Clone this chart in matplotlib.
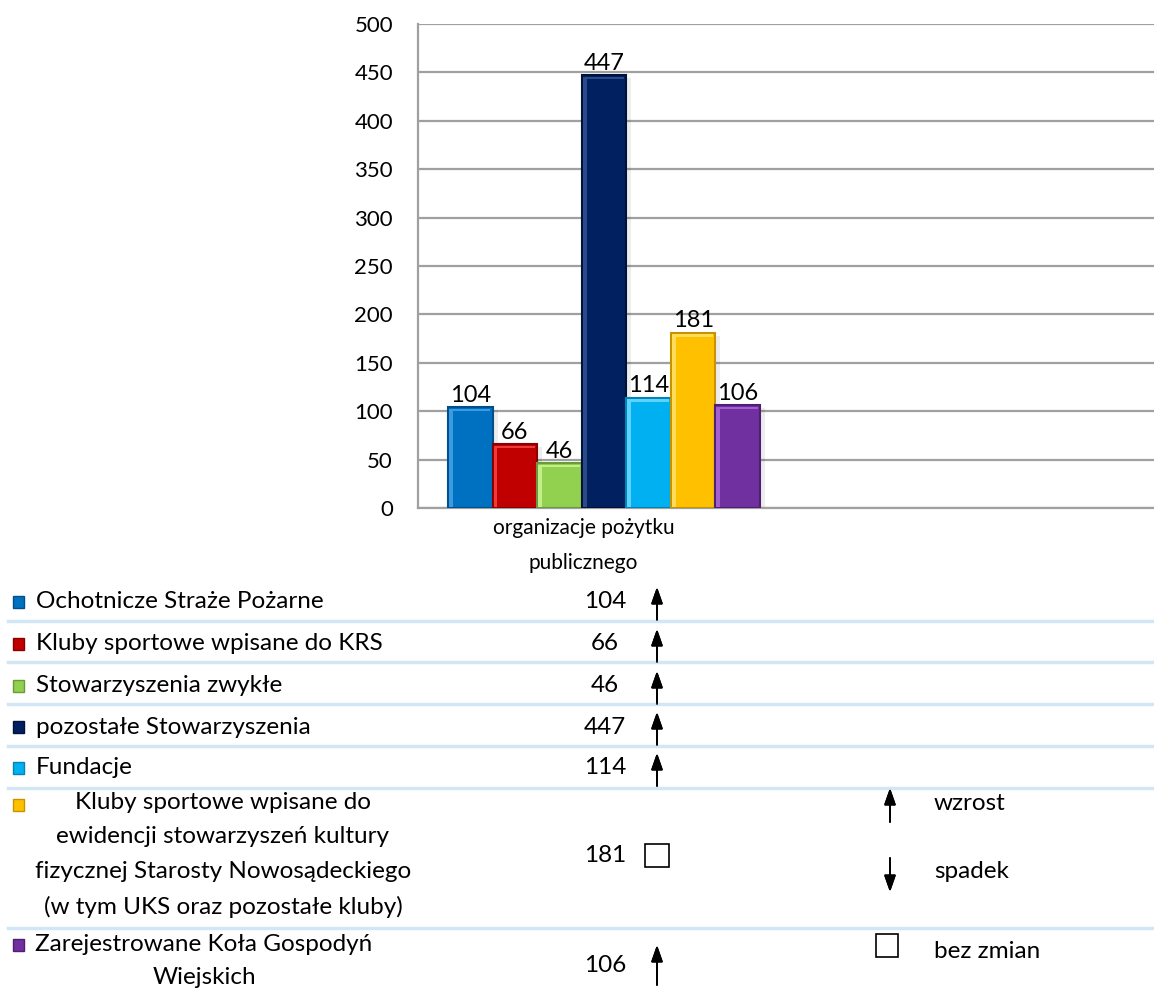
import numpy as np
import matplotlib.pyplot as plt
from matplotlib.patches import Rectangle

plt.rcParams['font.family'] = ['Lato', 'DejaVu Sans']

# Dane
kategorie = ['Ochotnicze Straże Pożarne',
             'Kluby sportowe wpisane do KRS',
             'Stowarzyszenia zwykłe',
             'pozostałe Stowarzyszenia',
             'Fundacje',
             'Kluby sportowe wpisane do\newidencji stowarzyszeń kultury\nfizycznej Starosty Nowosądeckiego\n(w tym UKS oraz pozostałe kluby)',
             'Zarejestrowane Koła Gospodyń\nWiejskich']
wartosci = [104, 66, 46, 447, 114, 181, 106]
zmiany = ['wzrost', 'wzrost', 'wzrost', 'wzrost', 'wzrost', 'bez zmian', 'wzrost']
kolory = ['#0070C0', '#C00000', '#92D050', '#002060', '#00B0F0', '#FFC000', '#7030A0']
jasne = ['#3a9be0', '#f03a3a', '#c3ee8a', '#2a4a8a', '#5fd3ff', '#ffdc5a', '#a060d0']
krawedzie = ['#004f8a', '#8a0000', '#6a9a3a', '#001238', '#0085b5', '#c79400', '#4f1f72']
grupa = 'organizacje pożytku\npublicznego'
y_ticks = [0, 50, 100, 150, 200, 250, 300, 350, 400, 450, 500]

W, H = 1154, 989
FS = 17.5
fig = plt.figure(figsize=(W / 100, H / 100), dpi=100)


def fx(x):
    return x / W


def fy(y):
    return 1 - y / H


# Wykres słupkowy
ax = fig.add_axes([fx(418), fy(508), 1 - fx(418), fy(24) - fy(508)])
szer = 0.121
start = -0.418
for i, (v, c, e) in enumerate(zip(wartosci, kolory, krawedzie)):
    xc = start + szer * (i + 0.5)
    # cień
    ax.bar(xc + 0.014, v, width=szer, bottom=-3, color='#000000', alpha=0.07,
           linewidth=0, zorder=2)
    ax.bar(xc, v, width=szer, color=c, edgecolor=e, linewidth=1.5, zorder=3)
    # jaśniejsza krawędź (efekt wypukłości)
    ax.bar(xc - szer / 2 + 0.008, v - 3, width=0.01, bottom=1.5, color=jasne[i],
           linewidth=0, zorder=4)
    ax.bar(xc, 2.5, width=szer - 0.012, bottom=v - 4, color=jasne[i],
           linewidth=0, zorder=4)
    ax.annotate(str(v), (xc, v), xytext=(0, 1), textcoords='offset points',
                ha='center', va='bottom', fontsize=17, zorder=5)

ax.set_xlim(-0.5, 1.5)
ax.set_ylim(0, 500)
ax.set_yticks(y_ticks)
ax.set_yticklabels([str(t) for t in y_ticks], fontsize=16)
ax.set_xticks([-0.05])
ax.set_xticklabels([grupa], fontsize=15, linespacing=1.95)
ax.tick_params(axis='both', length=0, pad=7)
ax.tick_params(axis='y', pad=18)
ax.yaxis.grid(True, color='#a0a0a0', linewidth=1.6, zorder=0)
ax.set_axisbelow(True)
for s in ['top', 'right']:
    ax.spines[s].set_visible(False)
for s in ['left', 'bottom']:
    ax.spines[s].set_color('#a0a0a0')
    ax.spines[s].set_linewidth(1.6)

# Tabela pod wykresem
linie = [621, 662, 704, 746, 788, 928]
for y in linie:
    fig.add_artist(plt.Line2D([fx(8), 1], [fy(y), fy(y)], color='#d3e6f5',
                              linewidth=2.5))

wiersze_y = [602, 644, 686, 727, 768, 855, 961]
marker_y = [602, 644, 686, 727, 768, 805, 945]


def strzalka(x, y0, y1):
    fig.add_artist(plt.annotate('', xy=(fx(x), fy(y1)), xytext=(fx(x), fy(y0)),
                                xycoords='figure fraction',
                                arrowprops=dict(arrowstyle='-|>,head_length=1.0,head_width=0.35',
                                                color='black', linewidth=1.3,
                                                shrinkA=0, shrinkB=0)))


def kwadrat(x, y, w, h):
    fig.add_artist(Rectangle((fx(x), fy(y + h)), w / W, h / H, fill=False,
                             edgecolor='black', linewidth=1.2,
                             transform=fig.transFigure))


for i, (k, v, z) in enumerate(zip(kategorie, wartosci, zmiany)):
    y = wiersze_y[i]
    fig.add_artist(Rectangle((fx(13), fy(marker_y[i] + 6)), 11 / W, 12 / H,
                             facecolor=kolory[i], edgecolor=krawedzie[i],
                             linewidth=1, transform=fig.transFigure))
    if i < 5:
        fig.text(fx(36), fy(y), k, fontsize=FS, ha='left', va='center')
    elif i == 5:
        fig.text(fx(223), fy(y), k, fontsize=FS, ha='center', va='center',
                 linespacing=1.78)
    else:
        fig.text(fx(204), fy(y), k, fontsize=FS, ha='center', va='center',
                 linespacing=1.65)
    vy = y if i < 6 else 965
    fig.text(fx(605), fy(vy), str(v), fontsize=FS, ha='center', va='center')
    if z == 'wzrost':
        if i < 6:
            strzalka(657, vy + 18, vy - 15)
        else:
            strzalka(657, 985, 945)
    elif z == 'bez zmian':
        kwadrat(645, vy - 11, 24, 23)

# Legenda symboli
strzalka(890, 822, 788)
fig.text(fx(934), fy(803), 'wzrost', fontsize=FS, ha='left', va='center')
strzalka(890, 858, 892)
fig.text(fx(934), fy(872), 'spadek', fontsize=FS, ha='left', va='center')
kwadrat(876, 934, 22, 23)
fig.text(fx(934), fy(952), 'bez zmian', fontsize=FS, ha='left', va='center')

fig.savefig('out.png', dpi=100)
